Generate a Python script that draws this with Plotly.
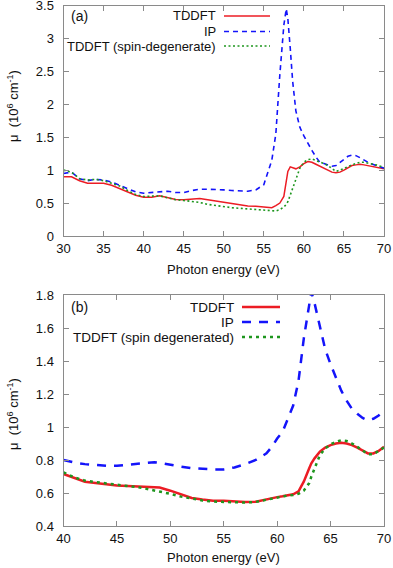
import plotly.graph_objects as go

# ---------------- Data: panel (a) ----------------
energy_a = [30, 31, 32, 33, 34, 35, 36, 37, 38, 39, 40, 41, 42, 43, 44, 45, 46, 47, 48, 49,
            50, 51, 52, 53, 54, 55, 56, 56.5, 57, 57.5, 57.8, 58, 58.3, 58.6, 59, 59.5, 60, 60.5,
            61, 61.5, 62, 62.5, 63, 63.5, 64, 64.5, 65, 65.5, 66, 66.5, 67, 67.5, 68, 69, 70]
tddft_a = [0.90, 0.90, 0.84, 0.80, 0.80, 0.80, 0.77, 0.72, 0.66, 0.62, 0.59, 0.59, 0.61, 0.58,
           0.555, 0.55, 0.565, 0.57, 0.55, 0.53, 0.52, 0.50, 0.47, 0.455, 0.45, 0.44, 0.43, 0.46,
           0.50, 0.60, 0.85, 0.98, 1.05, 1.04, 1.02, 1.05, 1.10, 1.13, 1.12, 1.09, 1.06, 1.04,
           1.01, 0.97, 0.96, 0.97, 1.00, 1.04, 1.07, 1.08, 1.09, 1.08, 1.07, 1.05, 1.02]
ip_a = [0.95, 0.97, 0.87, 0.84, 0.86, 0.85, 0.82, 0.77, 0.72, 0.67, 0.65, 0.66, 0.68, 0.68,
        0.66, 0.66, 0.69, 0.71, 0.71, 0.71, 0.70, 0.69, 0.68, 0.68, 0.70, 0.78, 1.15, 1.55,
        2.45, 3.2, 3.45, 3.3, 2.85, 2.35, 1.9, 1.65, 1.52, 1.40, 1.30, 1.20, 1.12, 1.10, 1.08,
        1.06, 1.07, 1.12, 1.17, 1.21, 1.23, 1.22, 1.19, 1.15, 1.12, 1.07, 1.03]
spin_a = [1.00, 0.97, 0.87, 0.85, 0.86, 0.84, 0.80, 0.76, 0.69, 0.63, 0.60, 0.60, 0.61, 0.58,
          0.55, 0.54, 0.53, 0.51, 0.48, 0.46, 0.45, 0.43, 0.42, 0.41, 0.40, 0.39, 0.38, 0.38,
          0.40, 0.44, 0.48, 0.52, 0.62, 0.72, 0.88, 1.03, 1.12, 1.16, 1.17, 1.15, 1.13, 1.10,
          1.07, 1.02, 0.98, 1.00, 1.03, 1.06, 1.08, 1.10, 1.12, 1.12, 1.11, 1.08, 1.04]

# ---------------- Data: panel (b) ----------------
energy_b = [40, 41, 42, 43, 44, 45, 46, 47, 48, 48.5, 49, 50, 51, 52, 53, 54, 55, 56, 57, 58,
            59, 59.5, 60, 60.5, 61, 61.5, 62, 62.5, 63, 63.2, 63.5, 64, 64.5, 65, 65.5, 66,
            66.5, 67, 67.5, 68, 68.5, 69, 69.5, 70]
tddft_b = [0.715, 0.69, 0.668, 0.66, 0.652, 0.646, 0.642, 0.638, 0.636, 0.635, 0.633, 0.614,
           0.59, 0.57, 0.56, 0.553, 0.553, 0.550, 0.545, 0.547, 0.562, 0.57, 0.575, 0.58,
           0.585, 0.592, 0.61, 0.67, 0.75, 0.78, 0.81, 0.85, 0.875, 0.89, 0.90, 0.905, 0.90,
           0.89, 0.875, 0.855, 0.84, 0.84, 0.855, 0.88]
ip_b = [0.80, 0.785, 0.775, 0.768, 0.765, 0.765, 0.77, 0.775, 0.783, 0.787, 0.783, 0.77, 0.76,
        0.75, 0.745, 0.743, 0.743, 0.755, 0.775, 0.80, 0.84, 0.88, 0.93, 0.97, 1.05, 1.13,
        1.28, 1.54, 1.74, 1.82, 1.75, 1.60, 1.47, 1.38, 1.30, 1.22, 1.16, 1.11, 1.08, 1.055,
        1.04, 1.05, 1.07, 1.10]
spin_b = [0.725, 0.695, 0.675, 0.665, 0.658, 0.65, 0.643, 0.635, 0.622, 0.616, 0.61, 0.595,
          0.578, 0.565, 0.555, 0.548, 0.545, 0.543, 0.542, 0.546, 0.56, 0.568, 0.575, 0.58,
          0.585, 0.588, 0.595, 0.615, 0.66, 0.70, 0.75, 0.83, 0.87, 0.895, 0.91, 0.92, 0.915,
          0.90, 0.88, 0.855, 0.835, 0.835, 0.855, 0.875]

legend_a = ["TDDFT", "IP", "TDDFT (spin-degenerate)"]
legend_b = ["TDDFT", "IP", "TDDFT (spin degenerated)"]

RED = "rgb(236,28,36)"
BLUE = "rgb(20,20,250)"
GREEN = "rgb(30,150,30)"
GRAY = "#8a8a8a"
FONT = "Liberation Sans, Arial, sans-serif"

W, H = 393, 568
def px(x):
    return x / W
def py(y):
    return 1 - y / H

fig = go.Figure()

# panel (a)
fig.add_trace(go.Scatter(x=energy_a, y=tddft_a, mode="lines", name=legend_a[0],
                         line=dict(color=RED, width=1.5), xaxis="x", yaxis="y"))
fig.add_trace(go.Scatter(x=energy_a, y=ip_a, mode="lines", name=legend_a[1],
                         line=dict(color=BLUE, width=1.6, dash="5px,4px"), xaxis="x", yaxis="y"))
fig.add_trace(go.Scatter(x=energy_a, y=spin_a, mode="lines", name=legend_a[2],
                         line=dict(color=GREEN, width=1.6, dash="2px,2.5px"), xaxis="x", yaxis="y"))
# panel (b)
fig.add_trace(go.Scatter(x=energy_b, y=tddft_b, mode="lines", name=legend_b[0],
                         line=dict(color=RED, width=2.5), xaxis="x2", yaxis="y2"))
fig.add_trace(go.Scatter(x=energy_b, y=ip_b, mode="lines", name=legend_b[1],
                         line=dict(color=BLUE, width=2.5, dash="9px,8px"), xaxis="x2", yaxis="y2"))
fig.add_trace(go.Scatter(x=energy_b, y=spin_b, mode="lines", name=legend_b[2],
                         line=dict(color=GREEN, width=2.5, dash="3px,4px"), xaxis="x2", yaxis="y2"))

xdom = [px(63.5), px(384)]
ax_common = dict(showline=True, linecolor=GRAY, linewidth=1, mirror="ticks",
                 ticks="inside", ticklen=5, tickcolor=GRAY, showgrid=False, zeroline=False,
                 automargin=False, ticklabeloverflow="allow",
                 tickfont=dict(family=FONT, size=13, color="#111"))

fig.update_layout(
    width=W, height=H, margin=dict(l=0, r=0, t=0, b=0),
    paper_bgcolor="white", plot_bgcolor="white", showlegend=False,
    font=dict(family=FONT, size=13, color="#111"),
    xaxis=dict(domain=xdom, range=[30, 70], dtick=5, anchor="y", **ax_common),
    yaxis=dict(domain=[py(236), py(5.5)], range=[0, 3.5], dtick=0.5, anchor="x",
               ticklabelstandoff=6, **ax_common),
    xaxis2=dict(domain=xdom, range=[40, 70], dtick=5, anchor="y2", **ax_common),
    yaxis2=dict(domain=[py(526), py(295)], range=[0.4, 1.8], dtick=0.2, anchor="x2",
                ticklabelstandoff=6, **ax_common),
)

ann = []
shapes = []
# axis titles
ann.append(dict(text="Photon energy (eV)", x=(xdom[0] + xdom[1]) / 2, y=py(270), xref="paper",
                yref="paper", showarrow=False, font=dict(size=13), xanchor="center", yanchor="middle"))
ann.append(dict(text="Photon energy (eV)", x=(xdom[0] + xdom[1]) / 2, y=py(557), xref="paper",
                yref="paper", showarrow=False, font=dict(size=13), xanchor="center", yanchor="middle"))
ylab = "μ  (10<sup>6</sup> cm<sup>-1</sup>)"
ann.append(dict(text=ylab, x=px(13), y=py(106), xref="paper", yref="paper", textangle=-90,
                showarrow=False, font=dict(size=13), xanchor="center", yanchor="middle"))
ann.append(dict(text=ylab, x=px(13), y=py(414), xref="paper", yref="paper", textangle=-90,
                showarrow=False, font=dict(size=13), xanchor="center", yanchor="middle"))
# panel labels
ann.append(dict(text="(a)", x=px(69), y=py(16), xref="paper", yref="paper", showarrow=False,
                font=dict(size=14), xanchor="left", yanchor="middle"))
ann.append(dict(text="(b)", x=px(69), y=py(307), xref="paper", yref="paper", showarrow=False,
                font=dict(size=14), xanchor="left", yanchor="middle"))

# manual legends (text right-aligned, line sample on the right)
leg_a_rows = [16, 31.5, 46]
leg_b_rows = [307, 322, 337]
styles_a = [dict(color=RED, width=1.5), dict(color=BLUE, width=1.6, dash="5px,4px"),
            dict(color=GREEN, width=1.6, dash="2px,2.5px")]
styles_b = [dict(color=RED, width=2.5), dict(color=BLUE, width=2.5, dash="9px,8px"),
            dict(color=GREEN, width=2.5, dash="3px,4px")]
for label, yy, st in zip(legend_a, leg_a_rows, styles_a):
    ann.append(dict(text=label, x=px(218), y=py(yy), xref="paper", yref="paper", showarrow=False,
                    font=dict(size=13), xanchor="right", yanchor="middle"))
    shapes.append(dict(type="line", xref="paper", yref="paper", x0=px(224), x1=px(270),
                       y0=py(yy), y1=py(yy), line=st))
for label, yy, st in zip(legend_b, leg_b_rows, styles_b):
    ann.append(dict(text=label, x=px(236), y=py(yy), xref="paper", yref="paper", showarrow=False,
                    font=dict(size=13.5), xanchor="right", yanchor="middle"))
    shapes.append(dict(type="line", xref="paper", yref="paper", x0=px(242), x1=px(280),
                       y0=py(yy), y1=py(yy), line=st))

fig.update_layout(annotations=ann, shapes=shapes)
# remove the default 8px page margin so the figure fills the window exactly
fig.write_html("out.html", config={"displayModeBar": False},
               post_script="document.body.style.margin='0px';")
